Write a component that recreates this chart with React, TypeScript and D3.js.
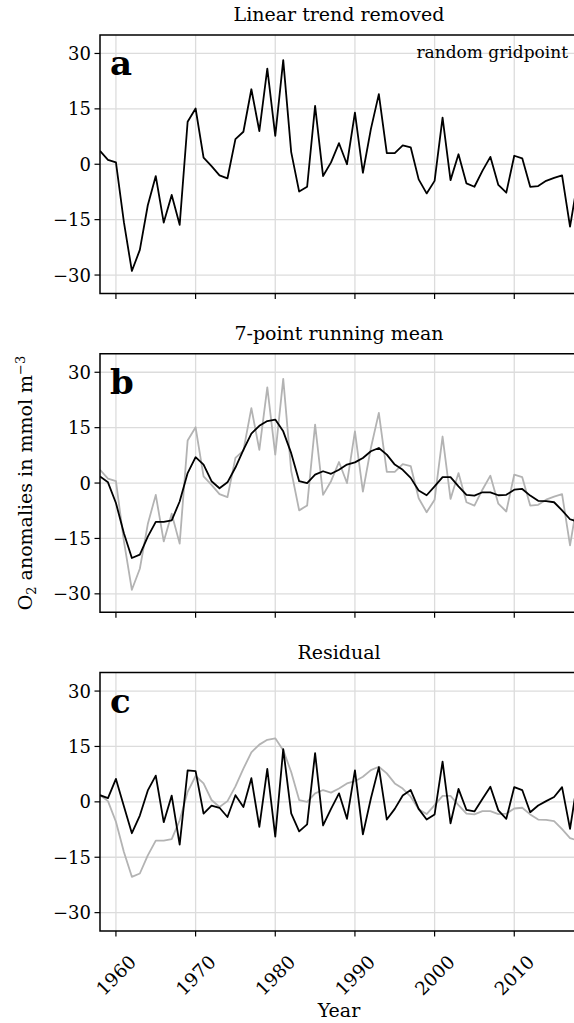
import React, { useEffect, useRef } from 'react';
import * as d3 from 'd3';

// years on the x axis
const years = [
  1958, 1959, 1960, 1961, 1962, 1963, 1964, 1965, 1966, 1967,
  1968, 1969, 1970, 1971, 1972, 1973, 1974, 1975, 1976, 1977,
  1978, 1979, 1980, 1981, 1982, 1983, 1984, 1985, 1986, 1987,
  1988, 1989, 1990, 1991, 1992, 1993, 1994, 1995, 1996, 1997,
  1998, 1999, 2000, 2001, 2002, 2003, 2004, 2005, 2006, 2007,
  2008, 2009, 2010, 2011, 2012, 2013, 2014, 2015, 2016, 2017,
  2018,
];

// O2 anomaly, linear trend removed
const detrended = [
  3.6, 1.2, 0.5, -15.7, -28.9, -23.2, -11.1, -3.2, -15.8, -8.3,
  -16.4, 11.5, 15.1, 1.8, -0.5, -3.0, -3.8, 6.8, 8.8, 20.3,
  9.0, 25.9, 7.7, 28.2, 3.3, -7.4, -6.1, 15.8, -3.2, 0.5,
  5.7, 0.0, 14.0, -2.3, 9.5, 19.0, 3.0, 3.0, 5.1, 4.6,
  -4.1, -7.9, -4.5, 12.6, -4.3, 2.7, -5.2, -6.1, -1.8, 2.0,
  -5.6, -7.7, 2.3, 1.6, -6.1, -5.9, -4.5, -3.7, -3.0, -16.9,
  -4.0,
];

// 7-point running mean
const runningMean = [
  1.8, 0.2, -5.4, -13.6, -20.3, -19.4, -14.5, -10.5, -10.5, -10.1,
  -5.0, 2.7, 7.0, 5.0, 0.5, -1.4, 0.2, 4.2, 9.0, 13.4,
  15.5, 16.8, 17.2, 14.0, 8.1, 0.5, 0.0, 2.3, 3.2, 2.5,
  3.6, 5.0, 5.6, 6.8, 8.6, 9.5, 7.7, 5.0, 3.6, 1.4,
  -2.0, -3.3, -0.9, 1.6, 1.6, -0.9, -3.2, -3.4, -2.5, -2.5,
  -3.3, -3.2, -1.8, -1.6, -3.4, -4.8, -4.9, -5.2, -7.4, -9.8,
  -10.5,
];

// residual (detrended minus running mean)
const residual = [
  1.8, 1.0, 6.2, -1.2, -8.5, -3.7, 3.1, 7.1, -5.5, 1.7,
  -11.6, 8.5, 8.3, -3.2, -1.0, -1.6, -4.1, 1.8, -1.4, 6.4,
  -6.8, 8.9, -9.4, 14.3, -3.1, -8.0, -6.1, 13.2, -6.4, -1.9,
  2.3, -4.6, 8.5, -8.8, 0.9, 9.4, -4.8, -1.9, 1.7, 3.2,
  -1.9, -4.8, -3.4, 10.9, -5.8, 3.5, -2.2, -2.6, 0.8, 4.1,
  -2.3, -4.6, 4.0, 3.2, -2.8, -1.0, 0.2, 1.3, 4.0, -7.3,
  6.5,
];

const yTicks = [-30, -15, 0, 15, 30];
const xTicks = [1960, 1970, 1980, 1990, 2000, 2010];
const titles = ['Linear trend removed', '7-point running mean', 'Residual'];
const letters = ['a', 'b', 'c'];

const W = 574;
const H = 1023;
const FONT = '"DejaVu Serif", serif';

const App = () => {
  const svgRef = useRef(null);

  useEffect(() => {
    if (!svgRef.current) return;
    const svg = d3.select(svgRef.current);
    svg.selectAll('*').remove();

    const left = 100;
    const right = 578; // axes run a bit past the window edge
    const panelH = 258.5;
    const tops = [35, 353.8, 672.6];

    const x = d3.scaleLinear().domain([1958, 2018]).range([left, right]);

    // panel content: [series, color] drawn back to front
    const panels = [
      [[detrended, '#000']],
      [[detrended, '#b3b3b3'], [runningMean, '#000']],
      [[runningMean, '#b3b3b3'], [residual, '#000']],
    ];

    const defs = svg.append('defs');

    panels.forEach((series, i) => {
      const top = tops[i];
      const y = d3.scaleLinear().domain([-35, 35]).range([top + panelH, top]);
      const g = svg.append('g');

      defs.append('clipPath')
        .attr('id', `clip${i}`)
        .append('rect')
        .attr('x', left)
        .attr('y', top)
        .attr('width', right - left)
        .attr('height', panelH);

      // grid
      g.append('g')
        .selectAll('line')
        .data(yTicks)
        .join('line')
        .attr('x1', left).attr('x2', right)
        .attr('y1', d => y(d)).attr('y2', d => y(d))
        .attr('stroke', '#dcdcdc')
        .attr('stroke-width', 1.3);
      g.append('g')
        .selectAll('line')
        .data(xTicks)
        .join('line')
        .attr('x1', d => x(d)).attr('x2', d => x(d))
        .attr('y1', top).attr('y2', top + panelH)
        .attr('stroke', '#dcdcdc')
        .attr('stroke-width', 1.3);

      // lines
      const line = d3.line()
        .x((d, j) => x(years[j]))
        .y(d => y(d));
      series.forEach(([vals, color]) => {
        g.append('path')
          .datum(vals)
          .attr('clip-path', `url(#clip${i})`)
          .attr('fill', 'none')
          .attr('stroke', color)
          .attr('stroke-width', 1.8)
          .attr('stroke-linejoin', 'round')
          .attr('d', line);
      });

      // spines (right one falls outside the window)
      g.append('path')
        .attr('d', `M${right},${top}H${left}V${top + panelH}H${right}`)
        .attr('fill', 'none')
        .attr('stroke', '#000')
        .attr('stroke-width', 1.5);

      // y ticks + labels
      g.append('g')
        .selectAll('line')
        .data(yTicks)
        .join('line')
        .attr('x1', left - 5.5).attr('x2', left)
        .attr('y1', d => y(d)).attr('y2', d => y(d))
        .attr('stroke', '#000')
        .attr('stroke-width', 1.2);
      g.append('g')
        .selectAll('text')
        .data(yTicks)
        .join('text')
        .attr('x', left - 9)
        .attr('y', d => y(d))
        .attr('dy', '0.36em')
        .attr('text-anchor', 'end')
        .style('font-family', FONT)
        .style('font-size', '18px')
        .text(d => (d < 0 ? '\u2212' + Math.abs(d) : String(d)));

      // x ticks
      g.append('g')
        .selectAll('line')
        .data(xTicks)
        .join('line')
        .attr('x1', d => x(d)).attr('x2', d => x(d))
        .attr('y1', top + panelH).attr('y2', top + panelH + 5.5)
        .attr('stroke', '#000')
        .attr('stroke-width', 1.2);

      // title
      g.append('text')
        .attr('x', (left + right) / 2)
        .attr('y', top - 14)
        .attr('text-anchor', 'middle')
        .style('font-family', FONT)
        .style('font-size', '19px')
        .text(titles[i]);

      // panel letter
      g.append('text')
        .attr('x', left + 10)
        .attr('y', top + 40)
        .style('font-family', FONT)
        .style('font-weight', 'bold')
        .style('font-size', '34px')
        .text(letters[i]);
    });

    // annotation in panel a
    svg.append('text')
      .attr('x', 568)
      .attr('y', tops[0] + 23)
      .attr('text-anchor', 'end')
      .style('font-family', FONT)
      .style('font-size', '17px')
      .text('random gridpoint');

    // x tick labels on the bottom panel
    const bottom = tops[2] + panelH;
    svg.append('g')
      .selectAll('text')
      .data(xTicks)
      .join('text')
      .attr('transform', d => `translate(${x(d)},${bottom + 44}) rotate(-45)`)
      .attr('text-anchor', 'middle')
      .attr('dy', '0.36em')
      .style('font-family', FONT)
      .style('font-size', '18.5px')
      .text(d => d);

    // axis labels
    svg.append('text')
      .attr('x', (left + right) / 2)
      .attr('y', 1017)
      .attr('text-anchor', 'middle')
      .style('font-family', FONT)
      .style('font-size', '19px')
      .text('Year');

    const ylab = svg.append('text')
      .attr('transform', `translate(32,${tops[1] + panelH / 2}) rotate(-90)`)
      .attr('text-anchor', 'middle')
      .style('font-family', FONT)
      .style('font-size', '19px');
    ylab.append('tspan').text('O');
    ylab.append('tspan').attr('dy', 4).style('font-size', '13px').text('2');
    ylab.append('tspan').attr('dy', -4).text(' anomalies in mmol m');
    ylab.append('tspan').attr('dy', -7.5).style('font-size', '13px').text('\u22123');
  }, []);

  return (
    <div style={{ position: 'absolute', left: 0, top: 0 }}>
      <svg ref={svgRef} width={W} height={H} style={{ display: 'block', background: '#fff' }}></svg>
    </div>
  );
};

export default App;
